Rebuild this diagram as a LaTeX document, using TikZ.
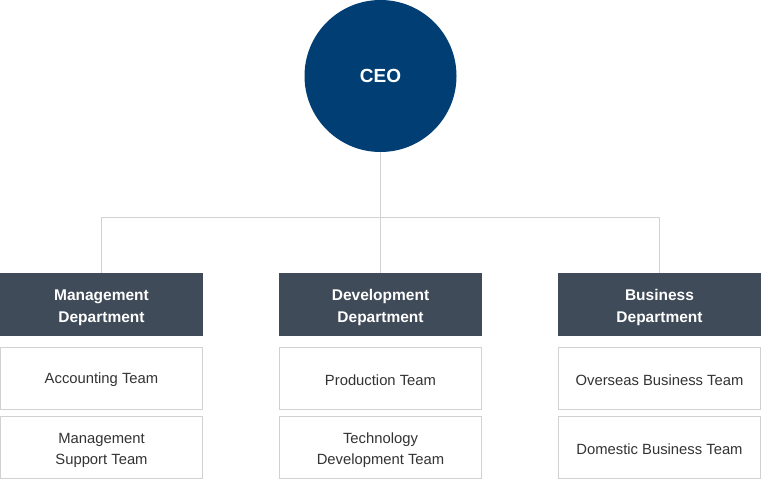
\documentclass[tikz,border=0pt]{standalone}
\usepackage{fontspec}
\setmainfont{Liberation Sans}
\definecolor{ceoblue}{HTML}{003E74}
\definecolor{deptgray}{HTML}{3F4B58}
\definecolor{linegray}{HTML}{D2D2D2}
\definecolor{teamtext}{HTML}{333333}
\newcommand{\topstrut}[1]{\rule{0pt}{#1}}

\begin{document}
\begin{tikzpicture}[x=1pt, y=-1pt,
    dept/.style={fill=deptgray, text=white, minimum width=203pt, minimum height=63pt,
        inner sep=0pt, align=center, font=\bfseries\fontsize{15.5}{22}\selectfont},
    team/.style={draw=linegray, line width=0.9pt, fill=white, text=teamtext,
        minimum width=202pt, minimum height=62pt, inner sep=0pt, align=center,
        font=\fontsize{14.8}{21}\selectfont},
    link/.style={draw=linegray, line width=0.9pt}]
    \useasboundingbox (0,0) rectangle (762,480);

    % CEO on top
    \node[circle, fill=ceoblue, text=white, minimum size=152pt, inner sep=0pt,
        font=\bfseries\fontsize{19}{22}\selectfont] (ceo) at (380.5,76) {CEO};

    % Departments
    \node[dept] (mgmt) at (101.5,304.5) {\topstrut{17pt}Management\\Department};
    \node[dept] (dev) at (380.5,304.5) {\topstrut{17pt}Development\\Department};
    \node[dept] (biz) at (659.5,304.5) {\topstrut{17pt}Business\\Department};

    % Connectors
    \coordinate (bus) at (380.5,217);
    \draw[link] (ceo.south) -- (bus);
    \draw[link] (bus) -| (mgmt.north);
    \draw[link] (bus) -- (dev.north);
    \draw[link] (bus) -| (biz.north);

    % Teams
    \node[team] (acct) at (101.5,378.5) {\topstrut{14pt}Accounting Team};
    \node[team] (mgsup) at (101.5,447.5) {\topstrut{16pt}Management\\Support Team};
    \node[team] (prod) at (380.5,378.5) {\topstrut{14pt}Production Team};
    \node[team] (tech) at (380.5,447.5) {\topstrut{16pt}Technology\\Development Team};
    \node[team] (overseas) at (659.5,378.5) {\topstrut{14pt}Overseas Business Team};
    \node[team] (domestic) at (659.5,447.5) {\topstrut{14pt}Domestic Business Team};
\end{tikzpicture}
\end{document}
